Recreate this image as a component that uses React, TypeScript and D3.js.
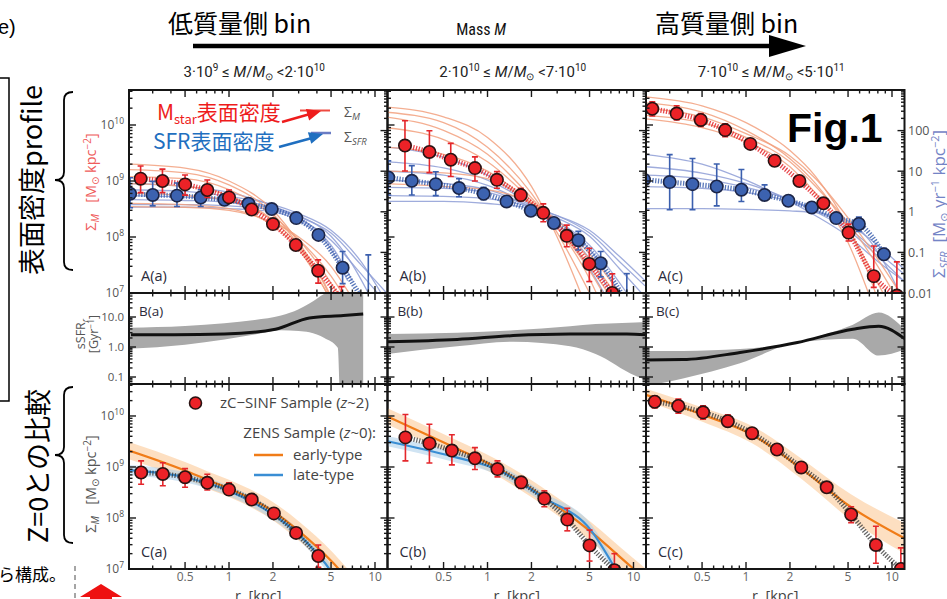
import React from "react";
import * as d3 from "d3";

const W = 947;
const H = 599;

// ---------- layout ----------
const PANEL_X = [129, 387.5, 646];
const PANEL_W = 258.5;
const ROW_A = [90, 293];
const ROW_B = [293, 384];
const ROW_C = [384, 569];

const R_DOMAIN: [number, number] = [0.2065, 12.18];
const M_DOMAIN_A: [number, number] = [1e7, Math.pow(10, 10.625)];
const SFR_DOMAIN: [number, number] = [0.01, 1000];
const SSFR_DOMAIN: [number, number] = [Math.pow(10, -1.233), Math.pow(10, 1.8)];
const M_DOMAIN_C: [number, number] = [1e7, Math.pow(10, 10.627)];

// ---------- labels ----------
const panelIds = ["a", "b", "c"];
const binLowMant = ["3", "2", "7"];
const binLowExp = ["9", "10", "10"];
const binHighMant = ["2", "7", "5"];
const binHighExp = ["10", "10", "11"];
const xTickLabels = [0.5, 1, 2, 5, 10];
const massTickExps = [7, 8, 9, 10];
const sfrTickValues = [0.01, 0.1, 1, 10, 100];
const sfrTickLabels = ["0.01", "0.1", "1", "10", "100"];
const ssfrTickValues = [0.1, 1, 10];
const ssfrTickLabels = ["0.1", "1.0", "10.0"];

// ---------- Row A : Sigma_M (red, left axis) ----------
const redR_Aa = [0.248, 0.35, 0.5, 0.71, 1.0, 1.43, 2.0, 2.87, 4.08, 5.9];
const redM_Aa = [1.1e9, 1.0e9, 8.7e8, 6.9e8, 5.1e8, 3.1e8, 1.7e8, 7.2e7, 2.5e7, 8e6];
const redLo_Aa = [6.2e8, 6.2e8, 5.6e8, 5.1e8, 4.3e8, 2.6e8, 1.5e8, 6.2e7, 1.5e7, 3e6];
const redHi_Aa = [1.85e9, 1.63e9, 1.28e9, 1.04e9, 6.9e8, 3.7e8, 1.95e8, 8.3e7, 3.9e7, 1.3e7];

const redR_Ab = [0.272, 0.4, 0.56, 0.82, 1.16, 1.69, 2.41, 3.49, 4.98, 7.16];
const redM_Ab = [4.3e9, 3.3e9, 2.4e9, 1.7e9, 1.05e9, 5.6e8, 2.7e8, 1.05e8, 3.3e7, 1.0e7];
const redLo_Ab = [1.51e9, 1.41e9, 1.2e9, 1.0e9, 7.4e8, 4.4e8, 1.87e8, 6.7e7, 1.6e7, 5e6];
const redHi_Ab = [1.19e10, 7.9e9, 4.7e9, 2.7e9, 1.47e9, 7.4e8, 3.9e8, 1.63e8, 6.3e7, 2.2e7];

const redR_Ac = [0.228, 0.335, 0.49, 0.72, 1.07, 1.57, 2.32, 3.39, 5.04, 7.5, 10.8];
const redM_Ac = [1.95e10, 1.6e10, 1.23e10, 8.1e9, 4.6e9, 2.3e9, 1.0e9, 4.0e8, 1.2e8, 2.0e7, 9e6];
const redLo_Ac = [1.45e10, 1.23e10, 9.4e9, 6.2e9, 3.8e9, 1.87e9, 8.2e8, 3.3e8, 8.5e7, 1.26e7, 5e6];
const redHi_Ac = [2.6e10, 2.2e10, 1.6e10, 1.05e10, 5.4e9, 2.8e9, 1.2e9, 4.9e8, 1.7e8, 6.9e7, 3.6e7];

// ---------- Row A : Sigma_SFR (blue, right axis) ----------
const blueR_Aa = [0.21, 0.3, 0.44, 0.64, 0.93, 1.36, 1.96, 2.89, 4.1, 6.0, 9.0];
const blueS_Aa = [2.78, 2.6, 2.5, 2.25, 1.98, 1.58, 1.17, 0.7, 0.27, 0.042, 0.004];
const blueLo_Aa = [1.26, 1.4, 1.35, 1.35, 1.64, 1.35, 1.0, 0.6, 0.22, 0.017, 0.001];
const blueHi_Aa = [6.9, 5.6, 5.1, 3.5, 2.6, 1.85, 1.35, 0.82, 0.33, 0.105, 0.087];

const blueR_Ab = [0.209, 0.303, 0.442, 0.638, 0.94, 1.35, 1.98, 2.85, 4.19, 5.96, 9.0];
const blueS_Ab = [7.0, 5.8, 4.8, 3.85, 2.78, 1.8, 1.06, 0.53, 0.2, 0.054, 0.006];
const blueLo_Ab = [2.6, 2.6, 2.5, 2.35, 1.98, 1.5, 0.9, 0.43, 0.115, 0.025, 0.001];
const blueHi_Ab = [18, 13.7, 9.7, 6.5, 4.0, 2.2, 1.25, 0.65, 0.33, 0.105, 0.03];

const blueR_Ac = [0.2, 0.3, 0.43, 0.63, 0.93, 1.34, 1.95, 2.82, 4.15, 5.93, 8.8];
const blueS_Ac = [6.2, 5.4, 4.8, 4.2, 3.5, 2.6, 1.87, 1.28, 0.7, 0.5, 0.09];
const blueLo_Ac = [1.12, 1.12, 1.12, 1.4, 1.8, 2.05, 1.6, 1.1, 0.6, 0.33, 0.065];
const blueHi_Ac = [37, 25.6, 20.5, 15, 11, 4.6, 2.2, 1.45, 0.8, 0.74, 0.127];

// ---------- Row A : individual galaxy profiles ----------
const thinRed_Aa: number[][][] = [
  [[0.2, 2.0e9], [0.5, 1.7e9], [1, 1.0e9], [2, 3e8], [3, 8e7], [4.5, 1.5e7], [6, 3e6]],
  [[0.2, 1.6e9], [0.5, 1.4e9], [1, 8.5e8], [2, 2.6e8], [3, 7e7], [4.5, 1.2e7], [5.5, 4e6]],
  [[0.2, 1.2e9], [0.5, 1.1e9], [1, 7e8], [2, 2.4e8], [3, 9e7], [5, 1.5e7], [6.5, 5e6]],
  [[0.2, 9e8], [0.5, 8e8], [1, 5.5e8], [2, 2e8], [3, 7e7], [4, 2.5e7], [5, 8e6]],
  [[0.2, 6e8], [0.5, 5.5e8], [1, 4.5e8], [2, 2e8], [3, 9e7], [5, 2e7], [7, 5e6]],
  [[0.2, 4e8], [0.5, 3.8e8], [1, 3.2e8], [2, 1.6e8], [3, 6e7], [4.5, 1.2e7], [5.5, 5e6]],
  [[0.2, 3.5e8], [0.5, 3.4e8], [1, 3e8], [2, 1.8e8], [3, 1e8], [5, 3e7], [7, 8e6]],
];
const thinBlue_Aa: number[][][] = [
  [[0.2, 5], [0.5, 4.2], [1, 3], [2, 1.4], [3, 0.7], [5, 0.2], [8, 0.03], [11, 0.008]],
  [[0.2, 3.5], [0.5, 3.2], [1, 2.4], [2, 1.5], [3, 0.9], [5, 0.35], [8, 0.06], [11, 0.01]],
  [[0.2, 2.5], [0.5, 2.3], [1, 2], [2, 1.3], [3, 0.8], [5, 0.25], [7, 0.05], [9, 0.01]],
  [[0.2, 2], [0.5, 1.9], [1, 1.7], [2, 1.2], [3, 0.7], [5, 0.15], [7, 0.02]],
  [[0.2, 1.5], [0.5, 1.5], [1, 1.4], [2, 1.1], [3, 0.75], [5, 0.3], [8, 0.05], [12, 0.01]],
  [[0.2, 1.3], [0.5, 1.3], [1, 1.2], [2, 1.0], [3, 0.6], [5, 0.12], [6.5, 0.02]],
];
const thinRed_Ab: number[][][] = [
  [[0.2, 2.1e10], [0.5, 1.4e10], [1, 6e9], [2, 8e8], [3, 1e8], [4.5, 8e6]],
  [[0.2, 1.7e10], [0.5, 1.1e10], [1, 4e9], [2, 6e8], [3, 1.2e8], [5, 1e7]],
  [[0.2, 1.4e10], [0.5, 8e9], [1, 3e9], [2, 5e8], [3, 1.5e8], [5, 1.8e7], [6.5, 4e6]],
  [[0.2, 9e9], [0.5, 5.5e9], [1, 2.2e9], [2, 4.5e8], [3, 1.5e8], [5, 2.5e7], [8, 3e6]],
  [[0.2, 4e9], [0.5, 3e9], [1, 1.5e9], [2, 4e8], [3, 1.5e8], [5, 3e7], [9, 3e6]],
  [[0.2, 1.5e9], [0.5, 1.4e9], [1, 1.1e9], [2, 4e8], [3, 1.8e8], [5, 4e7], [8, 8e6], [12, 2e6]],
  [[0.2, 9e8], [0.5, 8e8], [1, 7e8], [2, 4e8], [3, 2e8], [5, 5e7], [8, 1e7], [12, 2e6]],
];
const thinBlue_Ab: number[][][] = [
  [[0.2, 40], [0.5, 22], [1, 8], [2, 1.5], [3, 0.4], [5, 0.04], [6.5, 0.008]],
  [[0.2, 17], [0.5, 12], [1, 6], [2, 1.5], [3, 0.5], [5, 0.07], [7, 0.01]],
  [[0.2, 10], [0.5, 8], [1, 4.5], [2, 1.4], [3, 0.6], [5, 0.12], [8, 0.01]],
  [[0.2, 6], [0.5, 5], [1, 3.5], [2, 1.3], [3, 0.6], [5, 0.15], [9, 0.01]],
  [[0.2, 4], [0.5, 3.8], [1, 3], [2, 1.3], [3, 0.7], [5, 0.25], [8, 0.04], [12, 0.008]],
  [[0.2, 2.5], [0.5, 2.4], [1, 2.1], [2, 1.3], [3, 0.8], [5, 0.3], [8, 0.06], [12, 0.015]],
  [[0.2, 1.8], [0.5, 1.8], [1, 1.6], [2, 1.2], [3, 0.8], [5, 0.35], [8, 0.08], [12, 0.02]],
];
const thinRed_Ac: number[][][] = [
  [[0.2, 3.2e10], [0.5, 2.2e10], [1, 1.1e10], [2, 3.5e9], [3, 1.2e9], [5, 1.5e8], [7, 2e7], [9, 3e6]],
  [[0.2, 2.5e10], [0.5, 1.7e10], [1, 8e9], [2, 2.5e9], [3, 9e8], [5, 1.4e8], [8, 1.5e7], [12, 2e6]],
  [[0.2, 1.5e10], [0.5, 1.1e10], [1, 6e9], [2, 2.2e9], [3, 8e8], [5, 1.8e8], [8, 3e7], [12, 5e6]],
  [[0.2, 1.3e10], [0.5, 9e9], [1, 5e9], [2, 1.8e9], [3, 6e8], [5, 8e7], [7, 9e6]],
  [[0.2, 2e10], [0.5, 1.4e10], [1, 7e9], [2, 2.8e9], [3, 1.1e9], [5, 2.2e8], [8, 4e7], [12, 8e6]],
];
const thinBlue_Ac: number[][][] = [
  [[0.2, 26], [0.5, 15], [1, 6], [2, 1.8], [3, 0.8], [5, 0.25], [8, 0.06], [12, 0.02]],
  [[0.2, 13], [0.5, 9], [1, 5], [2, 2], [3, 1], [5, 0.35], [8, 0.08], [12, 0.02]],
  [[0.2, 8], [0.5, 6.5], [1, 4], [2, 2], [3, 1.1], [5, 0.4], [8, 0.1], [12, 0.03]],
  [[0.2, 4.2], [0.5, 3.8], [1, 3], [2, 1.8], [3, 1.1], [5, 0.5], [8, 0.15], [12, 0.04]],
  [[0.2, 1.2], [0.5, 1.2], [1, 1.15], [2, 1.05], [3, 0.95], [5, 0.6], [7, 0.2], [9, 0.05], [11, 0.012]],
];

// ---------- Row B : sSFR ----------
const bandR_Ba = [0.2065, 0.5, 0.93, 1.5, 2.27, 3.0, 3.55, 4.5, 5.56, 5.8, 8.3];
const bandHi_Ba = [4.4, 5.0, 6.2, 8.0, 11.2, 18, 28, 60, 100, 100, 100];
const bandLo_Ba = [0.88, 1.2, 1.78, 2.6, 3.6, 3.4, 3.1, 2.0, 0.94, 0.01, 0.01];
const lineR_Ba = [0.213, 0.42, 0.93, 2.08, 3.55, 6.07, 8.3];
const lineV_Ba = [2.55, 2.55, 2.7, 3.9, 9.3, 11.2, 12.7];

const bandR_Bb = [0.2065, 0.62, 1.5, 3.68, 5.5, 10.3, 12.18];
const bandHi_Bb = [2.7, 3.0, 3.6, 4.9, 5.8, 6.6, 6.8];
const bandLo_Bb = [0.59, 1.06, 1.51, 1.06, 0.59, 0.11, 0.08];
const lineR_Bb = [0.2065, 0.62, 1.5, 3.68, 9.0, 12.18];
const lineV_Bb = [1.51, 1.78, 2.4, 2.7, 2.7, 2.55];

const bandR_Bc = [0.2065, 0.37, 0.91, 2.25, 5.4, 8.1, 12.18];
const bandHi_Bc = [0.74, 0.74, 0.85, 1.5, 5.5, 14, 3.9];
const bandLo_Bc = [0.05, 0.09, 0.29, 1.4, 1.9, 0.52, 0.83];
const lineR_Bc = [0.2065, 0.37, 0.91, 2.25, 5.4, 8.1, 12.18];
const lineV_Bc = [0.37, 0.38, 0.66, 1.41, 3.9, 4.9, 1.9];

// ---------- Row C : comparison with z=0 ----------
const redR_Ca = [0.25, 0.352, 0.5, 0.71, 1.0, 1.43, 2.03, 2.88, 4.09];
const redM_Ca = [7.8e8, 7.3e8, 6.3e8, 4.9e8, 3.6e8, 2.3e8, 1.23e8, 5.1e7, 1.8e7];
const redLo_Ca = [4.6e8, 4.3e8, 4.0e8, 3.55e8, 2.8e8, 1.87e8, 1.05e8, 4.0e7, 1.08e7];
const redHi_Ca = [1.32e9, 1.21e9, 9.3e8, 7.2e8, 4.9e8, 2.8e8, 1.45e8, 6.3e7, 2.95e7];

const redR_Cb = [0.274, 0.4, 0.57, 0.82, 1.17, 1.7, 2.45, 3.52, 5.0, 7.4];
const redM_Cb = [3.8e9, 2.9e9, 2.1e9, 1.48e9, 9.1e8, 5.0e8, 2.4e8, 9.3e7, 2.9e7, 9.5e6];
const redLo_Cb = [1.32e9, 1.2e9, 1.1e9, 8.9e8, 6.4e8, 3.8e8, 1.66e8, 5.6e7, 1.43e7, 5e6];
const redHi_Cb = [1.07e10, 6.9e9, 4.3e9, 2.4e9, 1.32e9, 6.4e8, 3.4e8, 1.55e8, 5.8e7, 2.0e7];

const redR_Cc = [0.237, 0.344, 0.508, 0.75, 1.1, 1.63, 2.39, 3.57, 5.25, 7.76, 11.5];
const redM_Cc = [1.9e10, 1.57e10, 1.18e10, 7.9e9, 4.6e9, 2.2e9, 9.8e8, 4.0e8, 1.17e8, 2.96e7, 1.0e7];
const redLo_Cc = [1.44e10, 1.13e10, 8.6e9, 6.2e9, 3.55e9, 1.9e9, 8.5e8, 3.5e8, 8.1e7, 1.3e7, 5e6];
const redHi_Cc = [2.45e10, 2.14e10, 1.58e10, 1.05e10, 5.8e9, 2.6e9, 1.13e9, 4.6e8, 1.66e8, 6.9e7, 2.6e7];

const earlyR_Ca = [0.2065, 0.5, 0.71, 1.0, 2.03, 3.0, 5.16, 6.5];
const earlyM_Ca = [2.1e9, 8.5e8, 5.6e8, 3.8e8, 1.32e8, 5.6e7, 1.32e7, 6.3e6];
const earlyDex_Ca = [0.17, 0.17, 0.17, 0.17, 0.18, 0.19, 0.2, 0.2];
const lateR_Ca = [0.2065, 0.5, 1.0, 2.0, 3.0, 4.0, 5.0, 5.8];
const lateM_Ca = [8.7e8, 6.3e8, 3.4e8, 1.17e8, 4.8e7, 2.0e7, 8.9e6, 4e6];
const lateDex_Ca = [0.1, 0.1, 0.1, 0.1, 0.1, 0.11, 0.12, 0.12];

const earlyR_Cb = [0.2065, 0.58, 1.15, 2.42, 5.1, 9.6, 12.18];
const earlyM_Cb = [9.8e9, 2.5e9, 9.8e8, 2.6e8, 5.4e7, 1.12e7, 6.3e6];
const earlyDex_Cb = [0.16, 0.16, 0.16, 0.17, 0.19, 0.2, 0.2];
const lateR_Cb = [0.2065, 0.58, 1.15, 2.42, 5.1, 7.6];
const lateM_Cb = [3.2e9, 1.6e9, 9.1e8, 2.5e8, 5.8e7, 9.5e6];
const lateDex_Cb = [0.1, 0.1, 0.1, 0.1, 0.12, 0.12];

const earlyR_Cc = [0.2065, 0.508, 1.1, 2.39, 5.2, 12.18];
const earlyM_Cc = [2.6e10, 1.05e10, 4.3e9, 9.3e8, 1.66e8, 4.0e7];
const earlyDex_Cc = [0.12, 0.14, 0.17, 0.2, 0.25, 0.3];

// ---------- fonts & colors ----------
const SANS = "'Open Sans', 'DejaVu Sans', sans-serif";
const ARIAL = "'Liberation Sans', Arial, sans-serif";
const CJK = "'Noto Sans CJK JP', 'Noto Sans', sans-serif";
const COND = "'Roboto', 'Liberation Sans', sans-serif";
const RED = "#e4262b";
const BLUE = "#3b5fae";
const THIN_RED = "#f2a07e";
const THIN_BLUE = "#8e9dd6";
const ORANGE = "#f07c18";
const LATE = "#3a8ed4";

const zip = (a: number[], b: number[]) => a.map((v, i) => [v, b[i]] as [number, number]);

function logTicks(d: [number, number]) {
  const out: { v: number; major: boolean }[] = [];
  const e0 = Math.floor(Math.log10(d[0]));
  const e1 = Math.ceil(Math.log10(d[1]));
  for (let e = e0; e <= e1; e++) {
    for (let k = 1; k < 10; k++) {
      const v = k * Math.pow(10, e);
      if (v >= d[0] * 0.999 && v <= d[1] * 1.001) out.push({ v, major: k === 1 });
    }
  }
  return out;
}

function arrowHead(x1: number, y1: number, x2: number, y2: number, len: number, w: number) {
  const a = Math.atan2(y2 - y1, x2 - x1);
  const bx = x2 - len * Math.cos(a);
  const by = y2 - len * Math.sin(a);
  const px = -Math.sin(a) * w;
  const py = Math.cos(a) * w;
  return `${x2},${y2} ${bx + px},${by + py} ${bx - px},${by - py}`;
}

type Scale = d3.ScaleLogarithmic<number, number>;

function Frame({ x, yL, yR, top, bottom, id }: { x: Scale; yL: Scale; yR: Scale; top: number; bottom: number; id: string }) {
  const [x0, x1] = x.range();
  const ticks: React.ReactNode[] = [];
  const xt = logTicks(R_DOMAIN);
  xt.forEach((t, i) => {
    const px = x(t.v);
    const major = xTickLabels.some((v) => Math.abs(v - t.v) < 1e-9);
    const L = major ? 7 : 3.5;
    ticks.push(<line key={`xt${i}`} x1={px} x2={px} y1={bottom} y2={bottom - L} />);
    ticks.push(<line key={`xb${i}`} x1={px} x2={px} y1={top} y2={top + L} />);
  });
  logTicks(yL.domain() as [number, number]).forEach((t, i) => {
    const py = yL(t.v);
    const L = t.major ? 7 : 3.5;
    ticks.push(<line key={`yl${i}`} x1={x0} x2={x0 + L} y1={py} y2={py} />);
  });
  logTicks(yR.domain() as [number, number]).forEach((t, i) => {
    const py = yR(t.v);
    const L = t.major ? 7 : 3.5;
    ticks.push(<line key={`yr${i}`} x1={x1} x2={x1 - L} y1={py} y2={py} />);
  });
  return (
    <g key={id}>
      <g stroke="#1a1a1a" strokeWidth={1.4}>{ticks}</g>
      <rect x={x0} y={top} width={x1 - x0} height={bottom - top} fill="none" stroke="#151515" strokeWidth={2} />
    </g>
  );
}

function Points({ x, y, rs, vs, lo, hi, fill, stroke, errColor }: any) {
  return (
    <g>
      <g stroke={errColor} strokeWidth={1.6}>
        {rs.map((r: number, i: number) => {
          const px = x(r);
          return (
            <g key={i}>
              <line x1={px} x2={px} y1={y(lo[i])} y2={y(hi[i])} />
              <line x1={px - 3} x2={px + 3} y1={y(lo[i])} y2={y(lo[i])} />
              <line x1={px - 3} x2={px + 3} y1={y(hi[i])} y2={y(hi[i])} />
            </g>
          );
        })}
      </g>
      {rs.map((r: number, i: number) => (
        <circle key={i} cx={x(r)} cy={y(vs[i])} r={6.2} fill={fill} stroke={stroke} strokeWidth={1.6} />
      ))}
    </g>
  );
}

export default function App() {
  const xS = PANEL_X.map((x0) => d3.scaleLog().domain(R_DOMAIN).range([x0, x0 + PANEL_W]));
  const yMA = d3.scaleLog().domain(M_DOMAIN_A).range([ROW_A[1], ROW_A[0]]);
  const ySFR = d3.scaleLog().domain(SFR_DOMAIN).range([ROW_A[1], ROW_A[0]]);
  const yB = d3.scaleLog().domain(SSFR_DOMAIN).range([ROW_B[1], ROW_B[0]]);
  const yMC = d3.scaleLog().domain(M_DOMAIN_C).range([ROW_C[1], ROW_C[0]]);

  const mkLine = (x: Scale, y: Scale) =>
    d3.line<[number, number]>().x((d) => x(d[0])).y((d) => y(d[1])).curve(d3.curveMonotoneX);
  const mkArea = (x: Scale, y: Scale) =>
    d3.area<[number, number, number]>().x((d) => x(d[0])).y0((d) => y(d[1])).y1((d) => y(d[2])).curve(d3.curveMonotoneX);

  const rowAData = [
    { red: [redR_Aa, redM_Aa, redLo_Aa, redHi_Aa], blue: [blueR_Aa, blueS_Aa, blueLo_Aa, blueHi_Aa], tr: thinRed_Aa, tb: thinBlue_Aa },
    { red: [redR_Ab, redM_Ab, redLo_Ab, redHi_Ab], blue: [blueR_Ab, blueS_Ab, blueLo_Ab, blueHi_Ab], tr: thinRed_Ab, tb: thinBlue_Ab },
    { red: [redR_Ac, redM_Ac, redLo_Ac, redHi_Ac], blue: [blueR_Ac, blueS_Ac, blueLo_Ac, blueHi_Ac], tr: thinRed_Ac, tb: thinBlue_Ac },
  ];
  const rowBData = [
    { br: bandR_Ba, hi: bandHi_Ba, lo: bandLo_Ba, lr: lineR_Ba, lv: lineV_Ba },
    { br: bandR_Bb, hi: bandHi_Bb, lo: bandLo_Bb, lr: lineR_Bb, lv: lineV_Bb },
    { br: bandR_Bc, hi: bandHi_Bc, lo: bandLo_Bc, lr: lineR_Bc, lv: lineV_Bc },
  ];
  const rowCData = [
    { red: [redR_Ca, redM_Ca, redLo_Ca, redHi_Ca], early: [earlyR_Ca, earlyM_Ca, earlyDex_Ca], late: [lateR_Ca, lateM_Ca, lateDex_Ca] },
    { red: [redR_Cb, redM_Cb, redLo_Cb, redHi_Cb], early: [earlyR_Cb, earlyM_Cb, earlyDex_Cb], late: [lateR_Cb, lateM_Cb, lateDex_Cb] },
    { red: [redR_Cc, redM_Cc, redLo_Cc, redHi_Cc], early: [earlyR_Cc, earlyM_Cc, earlyDex_Cc], late: null as any },
  ];

  const bandOf = (r: number[], m: number[], dex: number[]) =>
    r.map((v, i) => [v, m[i] / Math.pow(10, dex[i]), m[i] * Math.pow(10, dex[i])] as [number, number, number]);

  return (
    <svg width={W} height={H} viewBox={`0 0 ${W} ${H}`} style={{ position: "absolute", left: 0, top: 0, background: "#fff" }}>
      <defs>
        {PANEL_X.map((x0, i) => (
          <React.Fragment key={i}>
            <clipPath id={`clipA${i}`}><rect x={x0} y={ROW_A[0]} width={PANEL_W} height={ROW_A[1] - ROW_A[0]} /></clipPath>
            <clipPath id={`clipB${i}`}><rect x={x0} y={ROW_B[0]} width={PANEL_W} height={ROW_B[1] - ROW_B[0]} /></clipPath>
            <clipPath id={`clipC${i}`}><rect x={x0} y={ROW_C[0]} width={PANEL_W} height={ROW_C[1] - ROW_C[0]} /></clipPath>
          </React.Fragment>
        ))}
      </defs>
      <rect x={0} y={0} width={W} height={H} fill="#fff" />

      {/* ---------- header ---------- */}
      <text x={-2} y={34} fontFamily={ARIAL} fontSize={20}>e)</text>
      <text x={168} y={33} fontFamily={CJK} fontSize={25}>低質量側 bin</text>
      <text x={655} y={33} fontFamily={CJK} fontSize={25}>高質量側 bin</text>
      <line x1={193} x2={775} y1={46} y2={46} stroke="#000" strokeWidth={4.5} />
      <polygon points="769,35 806,46 769,57" fill="#000" />
      <text x={481} y={35} textAnchor="middle" fontFamily={COND} fontSize={16} fill="#111" style={{ fontStretch: "condensed" }}>
        Mass <tspan fontStyle="italic">M</tspan>
      </text>
      {panelIds.map((p, i) => (
        <text key={p} x={PANEL_X[i] + PANEL_W / 2 - 4} y={77} textAnchor="middle" fontFamily={COND} fontSize={15} fill="#222">
          <tspan>{binLowMant[i]}·10</tspan>
          <tspan dy={-6} fontSize={10}>{binLowExp[i]}</tspan>
          <tspan dy={6}>{" ≤ "}</tspan>
          <tspan fontStyle="italic">M</tspan>
          <tspan>/</tspan>
          <tspan fontStyle="italic">M</tspan>
          <tspan dy={3} fontSize={10}>⊙</tspan>
          <tspan dy={-3}>{" <"}{binHighMant[i]}·10</tspan>
          <tspan dy={-6} fontSize={10}>{binHighExp[i]}</tspan>
        </text>
      ))}

      {/* ---------- left annotations ---------- */}
      <path d="M0,78 H9 V401 H0" fill="none" stroke="#000" strokeWidth={1.5} />
      <text transform="translate(30,180) rotate(-90)" textAnchor="middle" dominantBaseline="central" fontFamily={CJK} fontSize={27}>表面密度profile</text>
      <path d="M73,92 Q64,92 64,100 L64,172 Q64,180 55,180 Q64,180 64,188 L64,262 Q64,270 73,270" fill="none" stroke="#000" strokeWidth={1.8} />
      <text transform="translate(36,466) rotate(-90)" textAnchor="middle" dominantBaseline="central" fontFamily={CJK} fontSize={27}>Z=0との比較</text>
      <path d="M73,387 Q64,387 64,395 L64,447 Q64,455 55,455 Q64,455 64,463 L64,535 Q64,543 73,543" fill="none" stroke="#000" strokeWidth={1.8} />
      <text x={-2} y={581} fontFamily={CJK} fontSize={17}>ら構成。</text>
      <line x1={75} x2={75} y1={566} y2={599} stroke="#888" strokeWidth={1.5} strokeDasharray="5,4" />
      <polygon points="101,584 80,597 90,597 90,599 112,599 112,597 122,597" fill="#ee1111" />

      {/* ---------- Row A ---------- */}
      {rowAData.map((d, i) => {
        const x = xS[i];
        const lR = mkLine(x, yMA);
        const lB = mkLine(x, ySFR);
        return (
          <g key={`A${i}`}>
            <g clipPath={`url(#clipA${i})`}>
              {d.tb.map((ln, k) => (
                <path key={`tb${k}`} d={lB(ln as any) || ""} fill="none" stroke={THIN_BLUE} strokeWidth={1.3} opacity={0.85} />
              ))}
              {d.tr.map((ln, k) => (
                <path key={`tr${k}`} d={lR(ln as any) || ""} fill="none" stroke={THIN_RED} strokeWidth={1.3} opacity={0.85} />
              ))}
              <path d={lB(zip(d.blue[0], d.blue[1])) || ""} fill="none" stroke={BLUE} strokeWidth={5} strokeDasharray="1.3,1.5" opacity={0.85} />
              <path d={lR(zip(d.red[0], d.red[1])) || ""} fill="none" stroke={RED} strokeWidth={5} strokeDasharray="1.3,1.5" opacity={0.85} />
              <Points x={x} y={ySFR} rs={d.blue[0]} vs={d.blue[1]} lo={d.blue[2]} hi={d.blue[3]} fill="#3c62b0" stroke="#1c2547" errColor={BLUE} />
              <Points x={x} y={yMA} rs={d.red[0]} vs={d.red[1]} lo={d.red[2]} hi={d.red[3]} fill="#ec2227" stroke="#2a1212" errColor={RED} />
            </g>
            <Frame x={x} yL={yMA} yR={ySFR} top={ROW_A[0]} bottom={ROW_A[1]} id={`fA${i}`} />
            <text x={PANEL_X[i] + 12} y={281} fontFamily={SANS} fontSize={14.5} fill="#2b2b3b">A({panelIds[i]})</text>
          </g>
        );
      })}

      {/* ---------- Row B ---------- */}
      {rowBData.map((d, i) => {
        const x = xS[i];
        const band = mkArea(x, yB);
        const ln = mkLine(x, yB);
        return (
          <g key={`B${i}`}>
            <g clipPath={`url(#clipB${i})`}>
              <path d={band(d.br.map((r, k) => [r, d.lo[k], d.hi[k]] as [number, number, number])) || ""} fill="#a9a9a9" />
              <path d={ln(zip(d.lr, d.lv)) || ""} fill="none" stroke="#111" strokeWidth={3} />
            </g>
            <Frame x={x} yL={yB} yR={yB} top={ROW_B[0]} bottom={ROW_B[1]} id={`fB${i}`} />
            <text x={PANEL_X[i] + 10} y={316} fontFamily={SANS} fontSize={13.5} fill="#2b2b3b">B({panelIds[i]})</text>
          </g>
        );
      })}

      {/* ---------- Row C ---------- */}
      {rowCData.map((d, i) => {
        const x = xS[i];
        const ln = mkLine(x, yMC);
        const band = mkArea(x, yMC);
        return (
          <g key={`C${i}`}>
            <g clipPath={`url(#clipC${i})`}>
              <path d={band(bandOf(d.early[0], d.early[1], d.early[2])) || ""} fill="#fbc998" opacity={0.6} />
              {d.late && <path d={band(bandOf(d.late[0], d.late[1], d.late[2])) || ""} fill="#a9cdea" opacity={0.55} />}
              <path d={ln(zip(d.early[0], d.early[1])) || ""} fill="none" stroke={ORANGE} strokeWidth={2.2} />
              {d.late && <path d={ln(zip(d.late[0], d.late[1])) || ""} fill="none" stroke={LATE} strokeWidth={2.2} />}
              <path d={ln(zip(d.red[0], d.red[1])) || ""} fill="none" stroke="#333" strokeWidth={5} strokeDasharray="1.3,1.5" opacity={0.75} />
              <Points x={x} y={yMC} rs={d.red[0]} vs={d.red[1]} lo={d.red[2]} hi={d.red[3]} fill="#ec2227" stroke="#2a1212" errColor={RED} />
            </g>
            <Frame x={x} yL={yMC} yR={yMC} top={ROW_C[0]} bottom={ROW_C[1]} id={`fC${i}`} />
            <text x={PANEL_X[i] + 12} y={557} fontFamily={SANS} fontSize={14.5} fill="#2b2b3b">C({panelIds[i]})</text>
            {xTickLabels.map((t) => (
              <text key={t} x={x(t)} y={581} textAnchor="middle" fontFamily={SANS} fontSize={12} fill="#666">{t}</text>
            ))}
            <text x={PANEL_X[i] + PANEL_W / 2} y={601} textAnchor="middle" fontFamily={SANS} fontSize={14.5} fill="#444">{"r\u00a0\u00a0[kpc]"}</text>
          </g>
        );
      })}

      {/* ---------- axis tick labels ---------- */}
      {massTickExps.map((e) => (
        <React.Fragment key={`ma${e}`}>
          <text x={124} y={yMA(Math.pow(10, e)) + 4} textAnchor="end" fontFamily={SANS} fontSize={12} fill="#555">
            10<tspan dy={-5} fontSize={8.5}>{e}</tspan>
          </text>
          <text x={124} y={yMC(Math.pow(10, e)) + 4} textAnchor="end" fontFamily={SANS} fontSize={12} fill="#555">
            10<tspan dy={-5} fontSize={8.5}>{e}</tspan>
          </text>
        </React.Fragment>
      ))}
      {ssfrTickValues.map((v, k) => (
        <text key={`ss${k}`} x={124} y={yB(v) + 4} textAnchor="end" fontFamily={SANS} fontSize={11.5} fill="#555">{ssfrTickLabels[k]}</text>
      ))}
      {sfrTickValues.map((v, k) => (
        <text key={`sf${k}`} x={908} y={ySFR(v) + 4.5} fontFamily={SANS} fontSize={12.5} fill="#555">{sfrTickLabels[k]}</text>
      ))}

      {/* ---------- axis titles ---------- */}
      <text transform="translate(96,182) rotate(-90)" textAnchor="middle" fontFamily={SANS} fontSize={14.5} fill="#ef5b5b">
        <tspan>Σ</tspan><tspan dy={3} fontSize={10} fontStyle="italic">M</tspan>
        <tspan dy={-3}>{"\u00a0\u00a0\u00a0[M"}</tspan><tspan dy={3} fontSize={10}>⊙</tspan>
        <tspan dy={-3}>{" kpc"}</tspan><tspan dy={-5} fontSize={10}>−2</tspan><tspan dy={5}>]</tspan>
      </text>
      <text transform="translate(96,484) rotate(-90)" textAnchor="middle" fontFamily={SANS} fontSize={14.5} fill="#555">
        <tspan>Σ</tspan><tspan dy={3} fontSize={10} fontStyle="italic">M</tspan>
        <tspan dy={-3}>{"\u00a0\u00a0\u00a0[M"}</tspan><tspan dy={3} fontSize={10}>⊙</tspan>
        <tspan dy={-3}>{" kpc"}</tspan><tspan dy={-5} fontSize={10}>−2</tspan><tspan dy={5}>]</tspan>
      </text>
      <text transform="translate(85,334) rotate(-90)" textAnchor="middle" fontFamily={SANS} fontSize={12.5} fill="#555">
        sSFR<tspan dy={3} fontSize={8.5} fontStyle="italic">r</tspan>
      </text>
      <text transform="translate(98,334) rotate(-90)" textAnchor="middle" fontFamily={SANS} fontSize={12.5} fill="#555">
        [Gyr<tspan dy={-4} fontSize={8.5}>−1</tspan><tspan dy={4}>]</tspan>
      </text>
      <text transform="translate(945,204) rotate(-90)" textAnchor="middle" fontFamily={SANS} fontSize={17} fill="#7484c6">
        <tspan>Σ</tspan><tspan dy={3} fontSize={11} fontStyle="italic">SFR</tspan>
        <tspan dy={-3}>{"\u00a0\u00a0[M"}</tspan><tspan dy={3} fontSize={11}>⊙</tspan>
        <tspan dy={-3}>{" yr"}</tspan><tspan dy={-6} fontSize={11}>−1</tspan>
        <tspan dy={6}>{" kpc"}</tspan><tspan dy={-6} fontSize={11}>−2</tspan><tspan dy={6}>]</tspan>
      </text>

      {/* ---------- A(a) annotation ---------- */}
      <text x={157} y={120} fontFamily={CJK} fontSize={21} fill="#ee1c1c">
        M<tspan dy={4} fontSize={13}>star</tspan><tspan dy={-4}>表面密度</tspan>
      </text>
      <text x={153} y={149} fontFamily={CJK} fontSize={21} fill="#1f6fc0">SFR表面密度</text>
      <line x1={300} x2={330} y1={110.5} y2={110.5} stroke="#ee4a40" strokeWidth={2} />
      <line x1={311} x2={331} y1={133} y2={133} stroke="#6a7cc4" strokeWidth={2.5} />
      <line x1={282} y1={122} x2={310} y2={114} stroke="#ee1c1c" strokeWidth={2.5} />
      <polygon points={arrowHead(282, 122, 321, 111, 14, 6)} fill="#ee1c1c" />
      <line x1={279} y1={147} x2={312} y2={138} stroke="#1f6fc0" strokeWidth={2.5} />
      <polygon points={arrowHead(279, 147, 323, 134, 14, 6)} fill="#1f6fc0" />
      <text x={344} y={117} fontFamily={SANS} fontSize={14} fill="#555">
        Σ<tspan dy={3} fontSize={9.5} fontStyle="italic">M</tspan>
      </text>
      <text x={344} y={142} fontFamily={SANS} fontSize={14} fill="#555">
        Σ<tspan dy={3} fontSize={9.5} fontStyle="italic">SFR</tspan>
      </text>
      <text x={787} y={142} fontFamily={ARIAL} fontWeight="bold" fontSize={41} fill="#000">Fig.1</text>

      {/* ---------- C(a) legend ---------- */}
      <circle cx={195.5} cy={403} r={6} fill="#ec2227" stroke="#2a1212" strokeWidth={1.6} />
      <text x={220} y={408} fontFamily={SANS} fontSize={15} fill="#444">
        zC−SINF Sample (<tspan fontStyle="italic">z</tspan>~2)
      </text>
      <text x={376} y={438} textAnchor="end" fontFamily={SANS} fontSize={15} fill="#444">
        ZENS Sample (<tspan fontStyle="italic">z</tspan>~0):
      </text>
      <line x1={254} x2={283} y1={455} y2={455} stroke={ORANGE} strokeWidth={2.5} />
      <text x={293} y={460} fontFamily={SANS} fontSize={15} fill="#444">early-type</text>
      <line x1={254} x2={283} y1={475} y2={475} stroke={LATE} strokeWidth={2.5} />
      <text x={293} y={480} fontFamily={SANS} fontSize={15} fill="#444">late-type</text>
    </svg>
  );
}
